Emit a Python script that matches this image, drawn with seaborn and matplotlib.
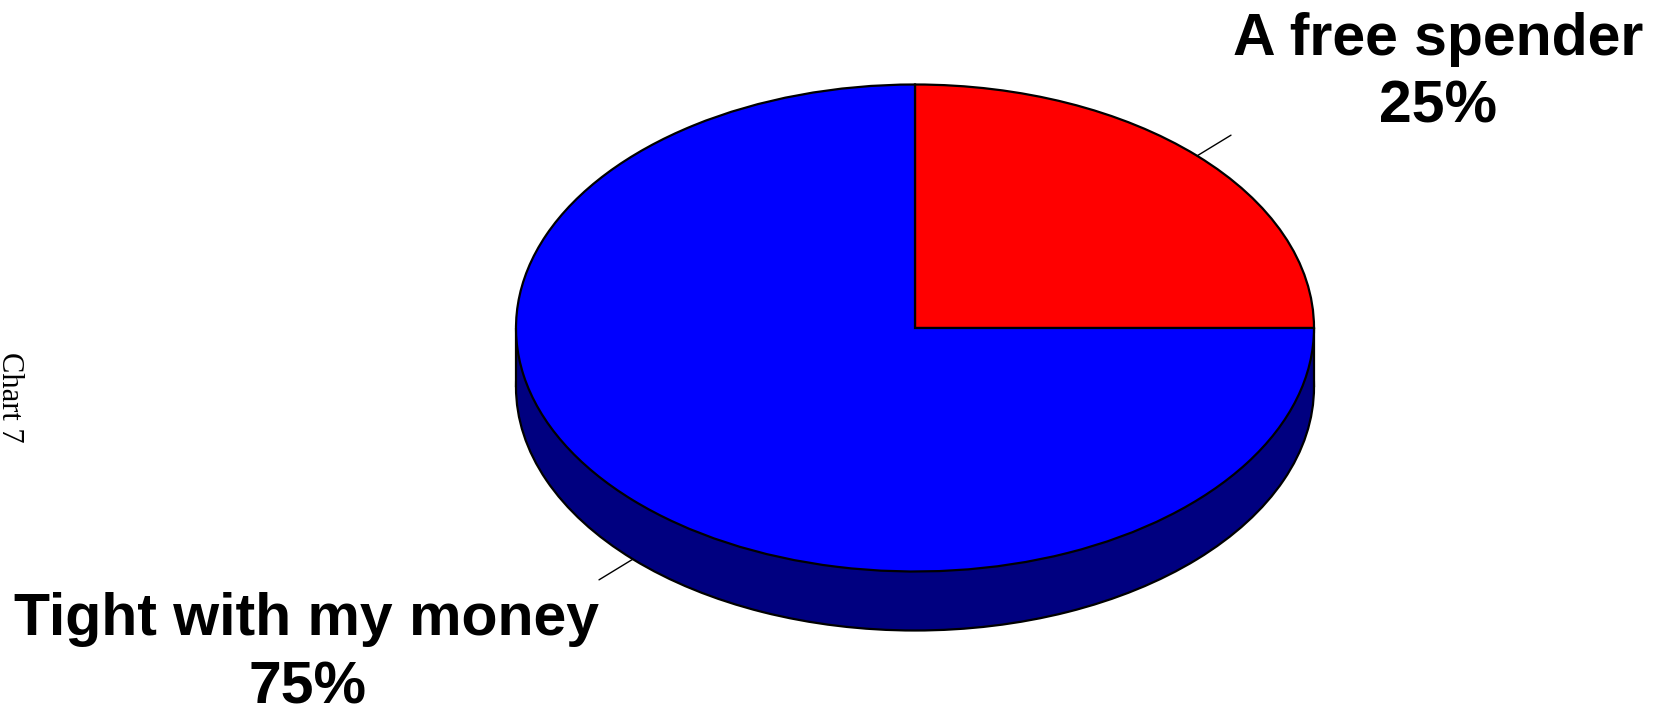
import numpy as np
import matplotlib
matplotlib.use("Agg")
import matplotlib.pyplot as plt
from matplotlib.patches import Rectangle
import seaborn as sns

sns.set_theme(style="white")
plt.rcParams["font.family"] = ["Liberation Sans", "DejaVu Sans"]

# Survey answers
categories = ["A free spender", "Tight with my money"]
shares = [25, 75]
top_colors = ["#FF0000", "#0000FF"]
side_color = "#000080"

W, H = 1653, 712
fig = plt.figure(figsize=(W / 100, H / 100), dpi=100)
fig.patch.set_facecolor("white")
ax = fig.add_axes([0, 0, 1, 1])

# Ellipse geometry in pixels: centre, horizontal / vertical radii and depth
cx, cy, rx, ry, depth_px = 915, 328, 399, 243.5, 59
depth = depth_px / ry

edge = dict(edgecolor="black", linewidth=1.6)

# Side of the disc: lower ellipse plus the band between the two faces
ax.pie([1], colors=[side_color], center=(0, -depth), radius=1,
       wedgeprops=edge, startangle=90)
ax.add_patch(Rectangle((-1, -depth), 2, depth, facecolor=side_color,
                       edgecolor="none", zorder=2))
ax.plot([-1, -1], [-depth, 0], color="black", lw=1.6, zorder=2)
ax.plot([1, 1], [-depth, 0], color="black", lw=1.6, zorder=2)

# Top face
wedges, _ = ax.pie(shares, colors=top_colors, startangle=90, counterclock=False,
                   radius=1, wedgeprops=edge)
for w in wedges:
    w.set_zorder(3)

ax.set_aspect("auto")
ax.set_xlim((0 - cx) / rx, (W - cx) / rx)
ax.set_ylim(-(H - cy) / ry, cy / ry)
ax.axis("off")


def px(x, y):
    return (x - cx) / rx, (cy - y) / ry


# Leader lines from the middle of each slice
total = sum(shares)
label_pos = [(1438, 55, 123), (307, 635, 704)]
start = 90.0
for i, (name, val) in enumerate(zip(categories, shares)):
    sweep = 360.0 * val / total
    mid = np.deg2rad(start - sweep / 2)
    start -= sweep
    ux, uy = np.cos(mid), np.sin(mid)
    off = -depth if uy < 0 else 0.0
    ax.plot([ux, 1.12 * ux], [uy + off, 1.12 * uy + off], color="black",
            lw=1.0, zorder=4)
    lx, b1, b2 = label_pos[i]
    x1, y1 = px(lx, b1)
    _, y2 = px(lx, b2)
    ax.text(x1, y1, name, ha="center", va="baseline", fontsize=42.5,
            fontweight="bold", color="black", zorder=5)
    ax.text(x1, y2, f"{val / total * 100:.0f}%", ha="center", va="baseline",
            fontsize=42.5, fontweight="bold", color="black", zorder=5)

fig.text(-5 / W, 1 - 397 / H, "Chart 7", rotation=270, ha="left", va="center",
         fontsize=22, family=["Liberation Serif", "DejaVu Serif"], color="black")

fig.savefig("out.png", dpi=100, facecolor="white")
